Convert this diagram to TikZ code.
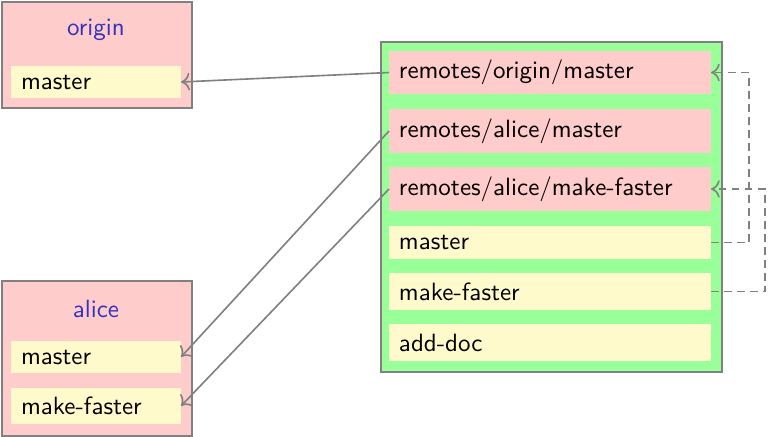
\documentclass[tikz,border=0pt]{standalone}
\usetikzlibrary{arrows.meta}
\definecolor{pinkbox}{RGB}{255,204,204}
\definecolor{yelbox}{RGB}{255,250,204}
\definecolor{grnbox}{RGB}{153,255,153}
\definecolor{lblblue}{RGB}{51,51,187}
\definecolor{edge}{RGB}{128,128,128}
\tikzset{
  outerbox/.style={draw=edge, line width=0.75pt, anchor=north west, inner sep=0pt},
  refbox/.style={anchor=north west, inner ysep=0pt, inner xsep=4pt, align=left, outer sep=0pt},
  lbl/.style={text=lblblue},
  conn/.style={draw=edge, line width=0.65pt, -{To[length=3.5pt,width=7pt]}},
  dconn/.style={conn, dash pattern=on 3pt off 2.2pt}
}
\begin{document}
\begin{tikzpicture}[x=0.4pt,y=-0.4pt,font=\sffamily]
\useasboundingbox (0,0) rectangle (769,436);
% origin
\node[outerbox, fill=pinkbox, minimum width=76pt, minimum height=42.4pt] (origin) at (1,1) {};
\node[lbl] (originlbl) at (96,30) {origin};
\node[refbox, fill=yelbox, text width=60pt, minimum height=12.8pt] (om) at (11,66) {master};
% alice
\node[outerbox, fill=pinkbox, minimum width=76pt, minimum height=62pt] (alice) at (1,280) {};
\node[lbl] (alicelbl) at (96,309) {alice};
\node[refbox, fill=yelbox, text width=60pt, minimum height=12.8pt] (am) at (11,341) {master};
\node[refbox, fill=yelbox, text width=60pt, minimum height=14.4pt] (amf) at (11,388) {make-faster};
% local repo
\node[outerbox, fill=grnbox, minimum width=136.4pt, minimum height=132pt] (local) at (380,41) {};
\node[refbox, fill=pinkbox, text width=120.8pt, minimum height=17.2pt] (rom) at (389,51) {remotes/origin/master};
\node[refbox, fill=pinkbox, text width=120.8pt, minimum height=17.6pt] (ram) at (389,109) {remotes/alice/master};
\node[refbox, fill=pinkbox, text width=120.8pt, minimum height=17.6pt] (ramf) at (389,167) {remotes/alice/make-faster};
\node[refbox, fill=yelbox, text width=120.8pt, minimum height=13.2pt] (lm) at (389,226) {master};
\node[refbox, fill=yelbox, text width=120.8pt, minimum height=14.8pt] (lmf) at (389,273) {make-faster};
\node[refbox, fill=yelbox, text width=120.8pt, minimum height=14.8pt] (lad) at (389,324) {add-doc};
% connectors
\draw[conn] (rom.west) -- (om.east);
\draw[conn] (ram.west) -- (am.east);
\draw[conn] (ramf.west) -- (amf.east);
\coordinate (c1) at (749,0);
\coordinate (c2) at (765,0);
\draw[dconn] (lm.east) -- (lm.east -| c1) -- (rom.east -| c1) -- (rom.east);
\draw[dconn] (lmf.east) -- (lmf.east -| c2) -- (ramf.east -| c2) -- (ramf.east);
\end{tikzpicture}
\end{document}
